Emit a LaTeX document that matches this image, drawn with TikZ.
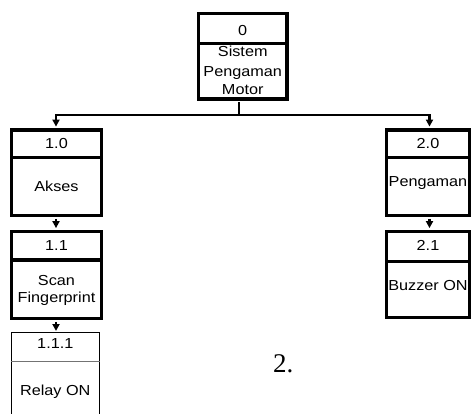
\documentclass[tikz,border=0pt]{standalone}
\usepackage{fontspec}
\setmainfont{Liberation Sans}
\newfontfamily\lblfont[FakeStretch=1.12]{Liberation Sans}
\newfontfamily\serifnum{Liberation Serif}
\usetikzlibrary{arrows.meta,fit}
\begin{document}
\begin{tikzpicture}[x=1pt,y=-1pt,
  boxpart/.style={draw, line width=3.4pt, inner sep=0pt},
  thinpart/.style={draw, line width=1pt, inner sep=0pt},
  conn/.style={line width=2.6pt},
  arr/.style={line width=2.2pt, -{Triangle[length=7pt,width=7pt]}},
  txt/.style={anchor=base, inner sep=0pt, font=\lblfont\fontsize{14.5}{17}\selectfont}]
\useasboundingbox (0,0) rectangle (471,414);
\begin{scope}
\clip (0,0) rectangle (471,414);
% Box 0
\node[boxpart, fit={(198.5,13.5) (287,43.5)}] (b0t) {};
\node[boxpart, fit={(198.5,43.5) (287,99)}] (b0b) {};
% Box 1.0
\node[boxpart, fit={(11.5,130) (101.5,157.5)}] (b10t) {};
\node[boxpart, fit={(11.5,157.5) (101.5,215.5)}] (b10b) {};
% Box 1.1
\node[boxpart, fit={(11.5,231.5) (101.5,260)}] (b11t) {};
\node[boxpart, fit={(11.5,260) (101.5,318.5)}] (b11b) {};
% Box 1.1.1
\node[thinpart, fit={(11.7,332) (99,361)}] (b111t) {};
\node[thinpart, fit={(11.7,361) (99,440)}] (b111b) {};
\draw[line width=1.5pt, black!55] (b111t.south west) -- (b111t.south east);
% Box 2.0
\node[boxpart, fit={(386.5,130) (469.5,157.5)}] (b20t) {};
\node[boxpart, fit={(386.5,157.5) (469.5,215.5)}] (b20b) {};
% Box 2.1
\node[boxpart, fit={(386.5,231.5) (469.5,261.5)}] (b21t) {};
\node[boxpart, fit={(386.5,261.5) (469.5,317.5)}] (b21b) {};
\end{scope}
% connectors
\coordinate (j) at (239,115);
\coordinate (jl) at (56,115);
\coordinate (jr) at (429.5,115);
\draw[conn, shorten <=1.7pt] (b0b.south -| j) -- (j);
\draw[conn, line cap=rect] (jl) -- (jr);
\draw[arr, shorten >=1.7pt] (jl) -- (b10t.north -| jl);
\draw[arr, shorten >=1.7pt] (jr) -- (b20t.north -| jr);
\draw[arr, shorten <=1.7pt, shorten >=1.7pt] (b10b.south -| jl) -- (b11t.north -| jl);
\draw[arr, shorten <=1.7pt, shorten >=0.5pt] (b11b.south -| jl) -- (b111t.north -| jl);
\draw[arr, shorten <=1.7pt, shorten >=1.7pt] (b20b.south -| jr) -- (b21t.north -| jr);
% texts
\node[txt] (t0) at (242.75,36) {0};
\node[txt] (t0a) at (242.75,57) {Sistem};
\node[txt] (t0b) at (242.75,76.5) {Pengaman};
\node[txt] (t0c) at (242.75,95) {Motor};
\node[txt] (t10) at (56.5,148.5) {1.0};
\node[txt] (t10a) at (56.5,192) {Akses};
\node[txt] (t11) at (56.5,250) {1.1};
\node[txt] (t11a) at (56.5,285) {Scan};
\node[txt] (t11b) at (56.5,302) {Fingerprint};
\node[txt] (t111) at (55.3,348) {1.1.1};
\node[txt] (t111a) at (55.3,395) {Relay ON};
\node[txt] (t20) at (428,148.5) {2.0};
\node[txt] (t20a) at (428,187) {Pengaman};
\node[txt] (t21) at (428,251) {2.1};
\node[txt] (t21a) at (428,290) {Buzzer ON};
\node[anchor=base west, inner sep=0pt, font=\serifnum\fontsize{27}{30}\selectfont] (n2) at (273,372) {2.};
\end{tikzpicture}
\end{document}
